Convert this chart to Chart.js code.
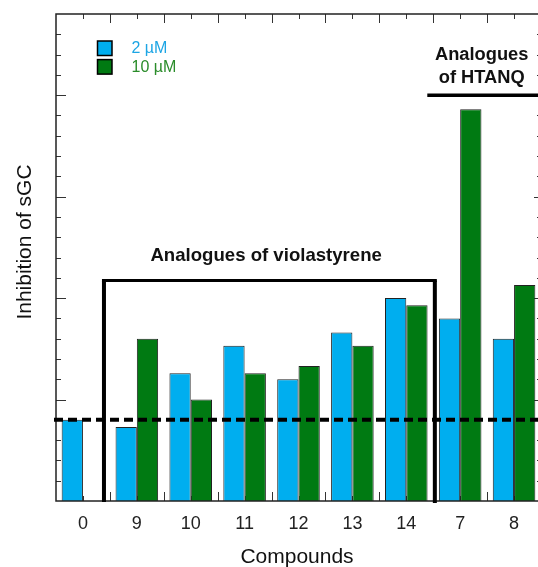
<!DOCTYPE html>
<html><head><meta charset="utf-8">
<script src="https://cdn.jsdelivr.net/npm/chart.js@4"></script>
<style>html,body{margin:0;padding:0;overflow:hidden;background:#fff;width:538px;height:567px}canvas{display:block}</style>
</head><body><canvas id="c" width="546" height="567" style="width:546px;height:567px"></canvas>
<script>
// ---- data ----
const categories = ['0', '9', '10', '11', '12', '13', '14', '7', '8'];
const seriesNames = ['2 µM', '10 µM'];
const values2uM = [4.0, 3.65, 6.3, 7.65, 6.0, 8.3, 10.0, 9.0, 8.0];
const values10uM = [null, 8.0, 5.0, 6.3, 6.65, 7.65, 9.65, 19.3, 10.65];
const yRange = [0, 24];
const controlLevel = 4;
const groupTitles = ['Analogues of violastyrene', ['Analogues', 'of HTANQ']];
const axisTitles = ['Compounds', 'Inhibition of sGC'];

// ---- styles ----
const FONT = '"Liberation Sans", Arial, Helvetica, sans-serif';
const BLUE = '#00AEEF', GREEN = '#007A12';

const decor = {
  id: 'decor',
  beforeDatasetsDraw(chart) {
    const {ctx, chartArea: a, scales: {x, y}} = chart;
    ctx.save();
    ctx.strokeStyle = '#333'; ctx.lineWidth = 1;
    ctx.beginPath();
    for (let v = yRange[0] + 1; v < yRange[1]; v++) {
      const py = Math.round(y.getPixelForValue(v)) + 0.5;
      const major = v % 5 === 0;
      ctx.moveTo(a.left, py); ctx.lineTo(a.left + (major ? 10 : 5), py);
      ctx.moveTo(a.right, py); ctx.lineTo(a.right - (major ? 7 : 4), py);
    }
    for (let i = 0; i < categories.length; i++) {
      const pc = Math.round(x.getPixelForValue(i)) + 0.5;
      const pb = Math.round(x.getPixelForValue(i + 0.5)) + 0.5;
      ctx.moveTo(pc, a.top); ctx.lineTo(pc, a.top + 5);
      ctx.moveTo(pb, a.top); ctx.lineTo(pb, a.top + 9);
      ctx.moveTo(pc, a.bottom); ctx.lineTo(pc, a.bottom - 5);
      ctx.moveTo(pb, a.bottom); ctx.lineTo(pb, a.bottom - 9);
    }
    ctx.stroke();
    ctx.restore();
  },
  afterDatasetsDraw(chart) {
    const {ctx, chartArea: a, scales: {x, y}} = chart;
    ctx.save();
    // frame
    ctx.strokeStyle = '#222'; ctx.lineWidth = 1.5;
    ctx.strokeRect(a.left, a.top, a.right - a.left, a.bottom - a.top);

    // control dashed line
    ctx.strokeStyle = '#000'; ctx.lineWidth = 4; ctx.setLineDash([9, 5]);
    const yc = y.getPixelForValue(controlLevel);
    ctx.beginPath(); ctx.moveTo(a.left - 2, yc); ctx.lineTo(a.right, yc); ctx.stroke();
    ctx.setLineDash([]);

    // violastyrene bracket
    const bl = x.getPixelForValue(0.39), br = x.getPixelForValue(6.53);
    const bt = y.getPixelForValue(10.87);
    ctx.lineWidth = 3;
    ctx.beginPath(); ctx.moveTo(bl - 2, bt); ctx.lineTo(br + 2, bt); ctx.stroke();
    ctx.lineWidth = 4;
    ctx.beginPath(); ctx.moveTo(bl, bt); ctx.lineTo(bl, a.bottom + 1);
    ctx.moveTo(br, bt); ctx.lineTo(br, a.bottom + 2); ctx.stroke();

    // HTANQ line
    const hy = y.getPixelForValue(20);
    ctx.lineWidth = 3.5;
    ctx.beginPath(); ctx.moveTo(x.getPixelForValue(6.39), hy); ctx.lineTo(a.right + 5, hy); ctx.stroke();

    // group labels
    ctx.fillStyle = '#111'; ctx.font = 'bold 18.6px ' + FONT;
    ctx.textAlign = 'center'; ctx.textBaseline = 'alphabetic';
    ctx.fillText(groupTitles[0], x.getPixelForValue(3.40), bt - 19.5);
    const hx = x.getPixelForValue(7.40);
    ctx.font = 'bold 18.3px ' + FONT;
    ctx.fillText(groupTitles[1][0], hx, hy - 35);
    ctx.fillText(groupTitles[1][1], hx, hy - 12);

    // legend
    const sw = [[BLUE, '#1DA5E4'], [GREEN, '#2A8C2A']];
    ctx.font = '16px ' + FONT; ctx.textAlign = 'left'; ctx.textBaseline = 'middle';
    seriesNames.forEach((n, k) => {
      const top = 41 + k * 18.6;
      ctx.fillStyle = sw[k][0];
      ctx.fillRect(97.5, top, 14.5, 14.5);
      ctx.strokeStyle = '#000'; ctx.lineWidth = 1.5;
      ctx.strokeRect(97.5, top, 14.5, 14.5);
      ctx.fillStyle = sw[k][1];
      ctx.fillText(n, 131.5, top + 7.5);
    });

    // axis titles
    ctx.fillStyle = '#111'; ctx.font = '21px ' + FONT;
    ctx.textAlign = 'center'; ctx.textBaseline = 'alphabetic';
    ctx.fillText(axisTitles[0], 297, 563);
    ctx.translate(31, 242); ctx.rotate(-Math.PI / 2);
    ctx.fillText(axisTitles[1], 0, 0);
    ctx.restore();
  }
};

new Chart(document.getElementById('c'), {
  type: 'bar',
  data: {
    labels: categories,
    datasets: [
      {label: seriesNames[0], data: values2uM, backgroundColor: BLUE, borderColor: '#222', borderWidth: 1},
      {label: seriesNames[1], data: values10uM, backgroundColor: GREEN, borderColor: '#222', borderWidth: 1}
    ]
  },
  options: {
    responsive: false, devicePixelRatio: 1, animation: false,
    layout: {padding: {left: 0, right: 5, top: 14, bottom: 0}},
    datasets: {bar: {categoryPercentage: 0.79, barPercentage: 1.0}},
    plugins: {legend: {display: false}, tooltip: {enabled: false}},
    scales: {
      x: {
        grid: {display: false, drawTicks: false}, border: {display: false},
        ticks: {color: '#222', padding: 12, font: {family: FONT, size: 18}},
        afterFit: s => { s.height = 66; }
      },
      y: {
        min: yRange[0], max: yRange[1],
        grid: {display: false, drawTicks: false}, border: {display: false},
        ticks: {display: false},
        afterFit: s => { s.width = 56; }
      }
    }
  },
  plugins: [decor]
});
</script></body></html>
